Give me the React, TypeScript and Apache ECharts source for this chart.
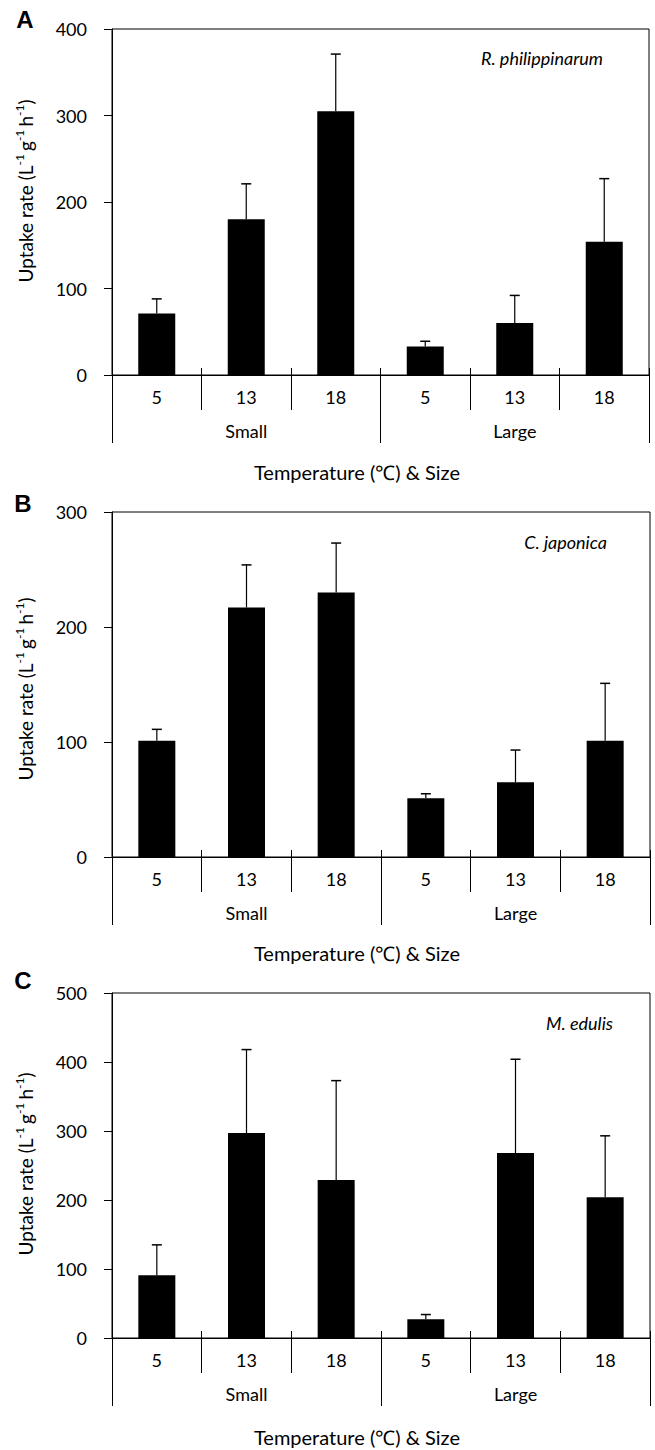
import React, { useEffect, useRef } from "react";
import * as echarts from "echarts";

const categories = ["5", "13", "18", "5", "13", "18"];
const groups = ["Small", "Large"];

const valuesA = [71, 180, 305, 33, 60, 154];
const errorsA = [17, 41, 66, 6, 32, 73];
const valuesB = [101, 217, 230, 51, 65, 101];
const errorsB = [10, 37, 43, 4, 28, 50];
const valuesC = [91, 297, 229, 27, 268, 204];
const errorsC = [44, 121, 144, 7, 136, 89];

const yMax = [400, 300, 500];
const yInterval = [100, 100, 100];
const speciesNames = ["R. philippinarum", "C. japonica", "M. edulis"];
const panelLetters = ["A", "B", "C"];
const xTitle = "Temperature (\u2103) & Size";

const FONT = "Lato, 'Open Sans', sans-serif";

const panels = [
  { values: valuesA, errors: errorsA, top: 29, height: 346, right: 6, yTitle: 191, species: [603, 58], letter: [25, 19], xTitleY: 472 },
  { values: valuesB, errors: errorsB, top: 512, height: 345, right: 5, yTitle: 689, species: [607, 542], letter: [23, 503], xTitleY: 953 },
  { values: valuesC, errors: errorsC, top: 993, height: 345, right: 5, yTitle: 1164, species: [613, 1023], letter: [23, 980], xTitleY: 1437 },
];

export default function App() {
  const ref = useRef<HTMLDivElement>(null);
  useEffect(() => {
    if (!ref.current) return;
    const chart = echarts.init(ref.current, undefined, { renderer: "svg" });

    const grid: any[] = [];
    const xAxis: any[] = [];
    const yAxis: any[] = [];
    const series: any[] = [];
    const graphic: any[] = [];

    panels.forEach((p, g) => {
      grid.push({
        left: 112,
        right: p.right,
        top: p.top,
        height: p.height,
        show: true,
        borderColor: "#000",
        borderWidth: 1,
        backgroundColor: "transparent",
        containLabel: false,
      });
      xAxis.push({
        type: "category",
        gridIndex: g,
        data: categories,
        position: "bottom",
        boundaryGap: true,
        axisLine: { show: true, lineStyle: { color: "#000", width: 1 } },
        axisTick: { show: true, interval: 0, length: 35, lineStyle: { color: "#000", width: 1 } },
        axisLabel: { interval: 0, margin: 13, fontSize: 18, color: "#000", fontFamily: FONT },
        splitLine: { show: false },
      });
      xAxis.push({
        type: "category",
        gridIndex: g,
        data: groups,
        position: "bottom",
        boundaryGap: true,
        axisLine: { show: false },
        axisTick: { show: true, interval: 0, length: 68, lineStyle: { color: "#000", width: 1 } },
        axisLabel: { interval: 0, margin: 47, fontSize: 18, color: "#000", fontFamily: FONT },
        splitLine: { show: false },
      });
      xAxis.push({
        type: "category",
        gridIndex: g,
        data: categories,
        position: "bottom",
        boundaryGap: true,
        axisLine: { show: false },
        axisTick: { show: true, inside: true, interval: 0, length: 7, lineStyle: { color: "#000", width: 1 } },
        axisLabel: { show: false },
        splitLine: { show: false },
      });
      yAxis.push({
        type: "value",
        gridIndex: g,
        min: 0,
        max: yMax[g],
        interval: yInterval[g],
        axisLine: { show: true, lineStyle: { color: "#000", width: 1 } },
        axisTick: { show: true, length: 8, lineStyle: { color: "#000", width: 1 } },
        axisLabel: { margin: 25, fontSize: 18, color: "#000", fontFamily: FONT },
        splitLine: { show: false },
      });
      series.push({
        type: "bar",
        xAxisIndex: g * 3,
        yAxisIndex: g,
        data: p.values,
        barWidth: 37,
        itemStyle: { color: "#000" },
        z: 2,
      });
      series.push({
        type: "custom",
        xAxisIndex: g * 3,
        yAxisIndex: g,
        data: p.values.map((v, i) => [i, v, p.errors[i]]),
        z: 3,
        renderItem: (params: any, api: any) => {
          const i = api.value(0);
          const v = api.value(1);
          const e = api.value(2);
          const base = api.coord([i, v]);
          const top = api.coord([i, v + e]);
          return {
            type: "group",
            children: [
              { type: "line", shape: { x1: base[0], y1: base[1], x2: top[0], y2: top[1] }, style: { stroke: "#000", lineWidth: 1.2 } },
              { type: "line", shape: { x1: top[0] - 5, y1: top[1], x2: top[0] + 5, y2: top[1] }, style: { stroke: "#000", lineWidth: 1.5 } },
            ],
          };
        },
      });

      graphic.push({
        type: "text",
        x: p.letter[0],
        y: p.letter[1],
        style: {
          text: panelLetters[g],
          font: "bold 24px 'Liberation Sans', Arial, sans-serif",
          fill: "#000",
          textAlign: "center",
          textVerticalAlign: "middle",
        },
      });
      graphic.push({
        type: "text",
        x: p.species[0],
        y: p.species[1],
        style: {
          text: speciesNames[g],
          font: `italic 18px ${FONT}`,
          fill: "#000",
          textAlign: "right",
          textVerticalAlign: "middle",
        },
      });
      graphic.push({
        type: "text",
        x: 357,
        y: p.xTitleY,
        style: {
          text: xTitle,
          font: `20px ${FONT}`,
          fill: "#000",
          textAlign: "center",
          textVerticalAlign: "middle",
        },
      });
      graphic.push({
        type: "text",
        x: 25,
        y: p.yTitle,
        rotation: Math.PI / 2,
        style: {
          text: "{n|Uptake rate (L}{s|-1 }{n|g}{s|-1 }{n|h}{s|-1}{n|)}",
          fill: "#000",
          textAlign: "center",
          textVerticalAlign: "middle",
          rich: {
            n: { fontSize: 19, fontFamily: FONT, lineHeight: 24, fill: "#000" },
            s: { fontSize: 12, fontFamily: FONT, lineHeight: 24, verticalAlign: "top", fill: "#000", padding: [0, 0, 8, 0] },
          },
        },
      });
    });

    chart.setOption({
      animation: false,
      backgroundColor: "#fff",
      grid,
      xAxis,
      yAxis,
      series,
      graphic,
    });
    return () => chart.dispose();
  }, []);
  return (
    <div
      ref={ref}
      style={{ position: "absolute", left: 0, top: 0, width: 655, height: 1450 }}
    />
  );
}
